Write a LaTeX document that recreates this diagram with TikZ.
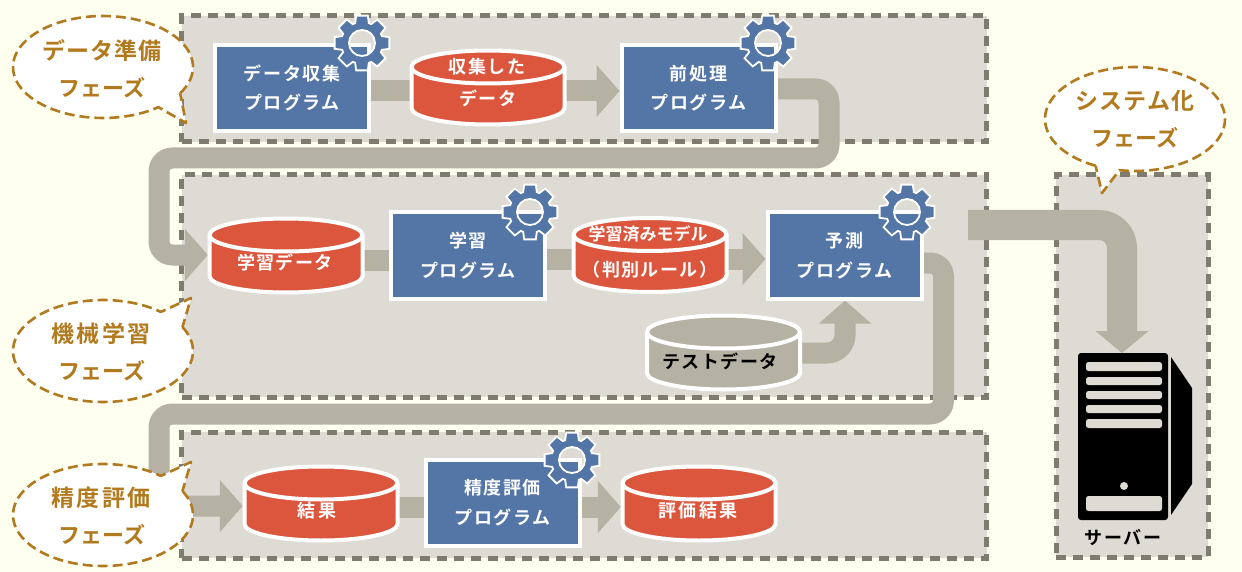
\documentclass[tikz,border=0pt]{standalone}
\usepackage{fontspec}
\setmainfont{Noto Sans CJK JP}[BoldFont=* Bold]
\usetikzlibrary{arrows.meta,backgrounds,calc}
\definecolor{pagebg}{HTML}{FFFFF0}
\definecolor{panelc}{HTML}{DDDBD3}
\definecolor{dashc}{HTML}{7F7B6E}
\definecolor{bandc}{HTML}{B5B1A3}
\definecolor{bluec}{HTML}{5476A7}
\definecolor{redc}{HTML}{DB563C}
\definecolor{ochre}{HTML}{B27A1E}
\tikzset{
  panel/.style={draw=dashc,fill=panelc,line width=5pt,dash pattern=on 10pt off 7pt,inner sep=0pt},
  band/.style={draw=bandc,line width=21pt,line cap=butt,line join=round},
  bandtip/.style={-{Triangle[width=51pt,length=23pt]}},
  prog/.style={draw=white,fill=bluec,line width=4pt,minimum width=154pt,minimum height=86pt,inner sep=0pt,
     text=white,align=center,font=\fontsize{18}{29.5}\selectfont\bfseries\addfontfeature{LetterSpace=9}},
  cylnode/.style={minimum width=156pt,minimum height=77pt,inner sep=0pt},
  cyltext/.style={inner sep=0pt,text=white,font=\fontsize{18}{20}\selectfont\bfseries\addfontfeature{LetterSpace=8}},
  bubble/.style={draw=ochre,fill=white,line width=2.6pt,dash pattern=on 10pt off 5pt,line join=round},
  bubtext/.style={inner sep=0pt,text=ochre,font=\fontsize{23}{24}\selectfont\bfseries\addfontfeature{LetterSpace=5}},
  bubwide/.style={bubtext,font=\fontsize{23}{24}\selectfont\bfseries\addfontfeature{LetterSpace=10}},
  bubkana/.style={bubtext,font=\fontsize{22}{24}\selectfont\bfseries},
}
\newcommand{\gearat}[2]{%
  \begin{scope}[shift={(#1,#2)}]
    \filldraw[draw=white,fill=bluec,line width=1.8pt,line join=miter,even odd rule]
      (109:21) \foreach \a in {90,45,0,-45,-90,-135,-180,-225} {
        -- (\a+19:21) -- (\a+12:28) -- (\a-12:28) -- (\a-19:21)
      } -- cycle
      (0,0) circle[radius=13];
  \end{scope}}
\newcommand{\cylat}[4]{%
  \node[cylnode] (#1) at (#2,#3) {};
  \begin{scope}[shift={(#2,#3)}]
    \draw[draw=white,fill=#4,line width=4pt]
      (-76.5,-20.5) arc[start angle=180,end angle=0,x radius=76.5pt,y radius=16.5pt]
      -- (76.5,20.5) arc[start angle=0,end angle=-180,x radius=76.5pt,y radius=16.5pt] -- cycle;
    \draw[draw=white,line width=4pt]
      (-76.5,-20.5) arc[start angle=180,end angle=360,x radius=76.5pt,y radius=16.5pt];
  \end{scope}}
\begin{document}
\begin{tikzpicture}[x=1pt,y=-1pt]
\useasboundingbox (0,0) rectangle (1242,572);
% programs
\node[prog] (p1) at (292,88) {データ収集\\プログラム};
\node[prog] (p2) at (698.5,88) {前処理\\プログラム};
\node[prog] (p3) at (468,255.5) {学習\\プログラム};
\node[prog] (p4) at (844.5,255.5) {予測\\プログラム};
\node[prog] (p5) at (502.5,502.5) {精度評価\\プログラム};
\begin{scope}[on background layer]
  \fill[pagebg] (0,0) rectangle (1242,572);
  \node[panel,minimum width=805pt,minimum height=126pt] (z1) at (584,79) {};
  \node[panel,minimum width=805pt,minimum height=222pt] (z2) at (584,286) {};
  \node[panel,minimum width=805pt,minimum height=126pt] (z3) at (584,495) {};
  \node[panel,minimum width=152pt,minimum height=382pt] (z4) at (1132,366) {};
\end{scope}
% cylinders
\cylat{c1}{488}{87.5}{redc}
\cylat{c2}{286}{255.5}{redc}
\cylat{c3}{650}{255}{redc}
\cylat{c4}{723.5}{352.5}{bandc}
\cylat{c5}{321}{503.5}{redc}
\cylat{c6}{699}{503.5}{redc}
\node[cyltext] (c1a) at (487,67) {収集した};
\node[cyltext] (c1b) at (488,98) {データ};
\node[cyltext] (c2a) at (285,263) {学習データ};
\node[cyltext,font=\fontsize{17}{20}\selectfont\bfseries] (c3a) at (648,234) {学習済みモデル};
\node[cyltext,font=\fontsize{18}{20}\selectfont\bfseries\addfontfeature{LetterSpace=8}] (c3b) at (650,270) {（判別ルール）};
\node[cyltext,text=black] (c4a) at (720,361) {テストデータ};
\node[cyltext,font=\fontsize{18}{20}\selectfont\bfseries\addfontfeature{LetterSpace=14}] (c5a) at (317,511) {結果};
\node[cyltext,font=\fontsize{18}{20}\selectfont\bfseries\addfontfeature{LetterSpace=14}] (c6a) at (698,511) {評価結果};
% gears
\gearat{362}{43}
\gearat{768}{43}
\gearat{530}{212}
\gearat{907}{212}
\gearat{572}{460}
% connectors
\begin{scope}[on background layer]
  \draw[band] (p1.east |- 0,91) -- (c1.west |- 0,91);
  \draw[band,bandtip] (c1.east |- 0,91) -- (p2.west |- 0,91);
  \draw[band,bandtip,rounded corners=13pt] (p2.east |- 0,89) -- (829,89) -- (829,158) -- (159,158) -- (159,255) -- (c2.west |- 0,255);
  \draw[band] (c2.east |- 0,260) -- (p3.west |- 0,260);
  \draw[band] (p3.east |- 0,259) -- (c3.west |- 0,259);
  \draw[band,bandtip] (c3.east |- 0,259) -- (p4.west |- 0,259);
  \draw[band,bandtip,rounded corners=18pt] (c4.east |- 0,353) -- (845,353) -- (p4.south -| 845,0);
  \draw[band,bandtip,rounded corners=13pt] (p4.east |- 0,263) -- (943.5,263) -- (943.5,414) -- (159,414) -- (159,506) -- (c5.west |- 0,506);
  \draw[band] (c5.east |- 0,507) -- (p5.west |- 0,507);
  \draw[band,bandtip] (p5.east |- 0,507) -- (c6.west |- 0,507);
  \coordinate (sysstart) at (968,225);
  \coordinate (srvtop) at (1122,353);
  \draw[band,line width=30pt,-{Triangle[width=52pt,length=22pt]},rounded corners=23pt] (sysstart) -- (1122,225) -- (srvtop);
\end{scope}
% bubbles
\filldraw[bubble] plot[domain=31:-308,samples=90] ({103+90*cos(\x)},{67+51*sin(\x)}) -- (186,123) -- cycle;
\filldraw[bubble] plot[domain=-28:310,samples=90] ({103+90*cos(\x)},{351+51*sin(\x)}) -- (191,298) -- cycle;
\filldraw[bubble] plot[domain=-28:310,samples=90] ({103+90*cos(\x)},{515+51*sin(\x)}) -- (191,462) -- cycle;
\filldraw[bubble] plot[domain=116:460,samples=90] ({1135+90*cos(\x)},{119+52*sin(\x)}) -- (1102,193) -- cycle;
\node[bubtext] (b1a) at (102,51) {データ準備};
\node[bubkana] (b1b) at (102,88) {フェーズ};
\node[bubwide] (b2a) at (101,334) {機械学習};
\node[bubkana] (b2b) at (102,371) {フェーズ};
\node[bubwide] (b3a) at (101,498) {精度評価};
\node[bubkana] (b3b) at (102,535) {フェーズ};
\node[bubtext] (b4a) at (1135,101) {システム化};
\node[bubkana] (b4b) at (1135,138) {フェーズ};
% server
\fill[black,rounded corners=3pt] (1078,353) rectangle (1168,520);
\foreach \ya/\yb in {362/371,377/385,391/399,405/413,419/428}
  \fill[panelc,rounded corners=2.5pt] (1086,\ya) rectangle (1162,\yb);
\fill[panelc] (1124,486) circle[radius=4];
\fill[panelc,rounded corners=2.5pt] (1086,496) rectangle (1162,511);
\fill[black] (1171,357) -- (1192,388) -- (1192,484) -- (1171,515) -- cycle;
\node[cyltext,text=black] (srv) at (1123,537) {サーバー};
\end{tikzpicture}
\end{document}
